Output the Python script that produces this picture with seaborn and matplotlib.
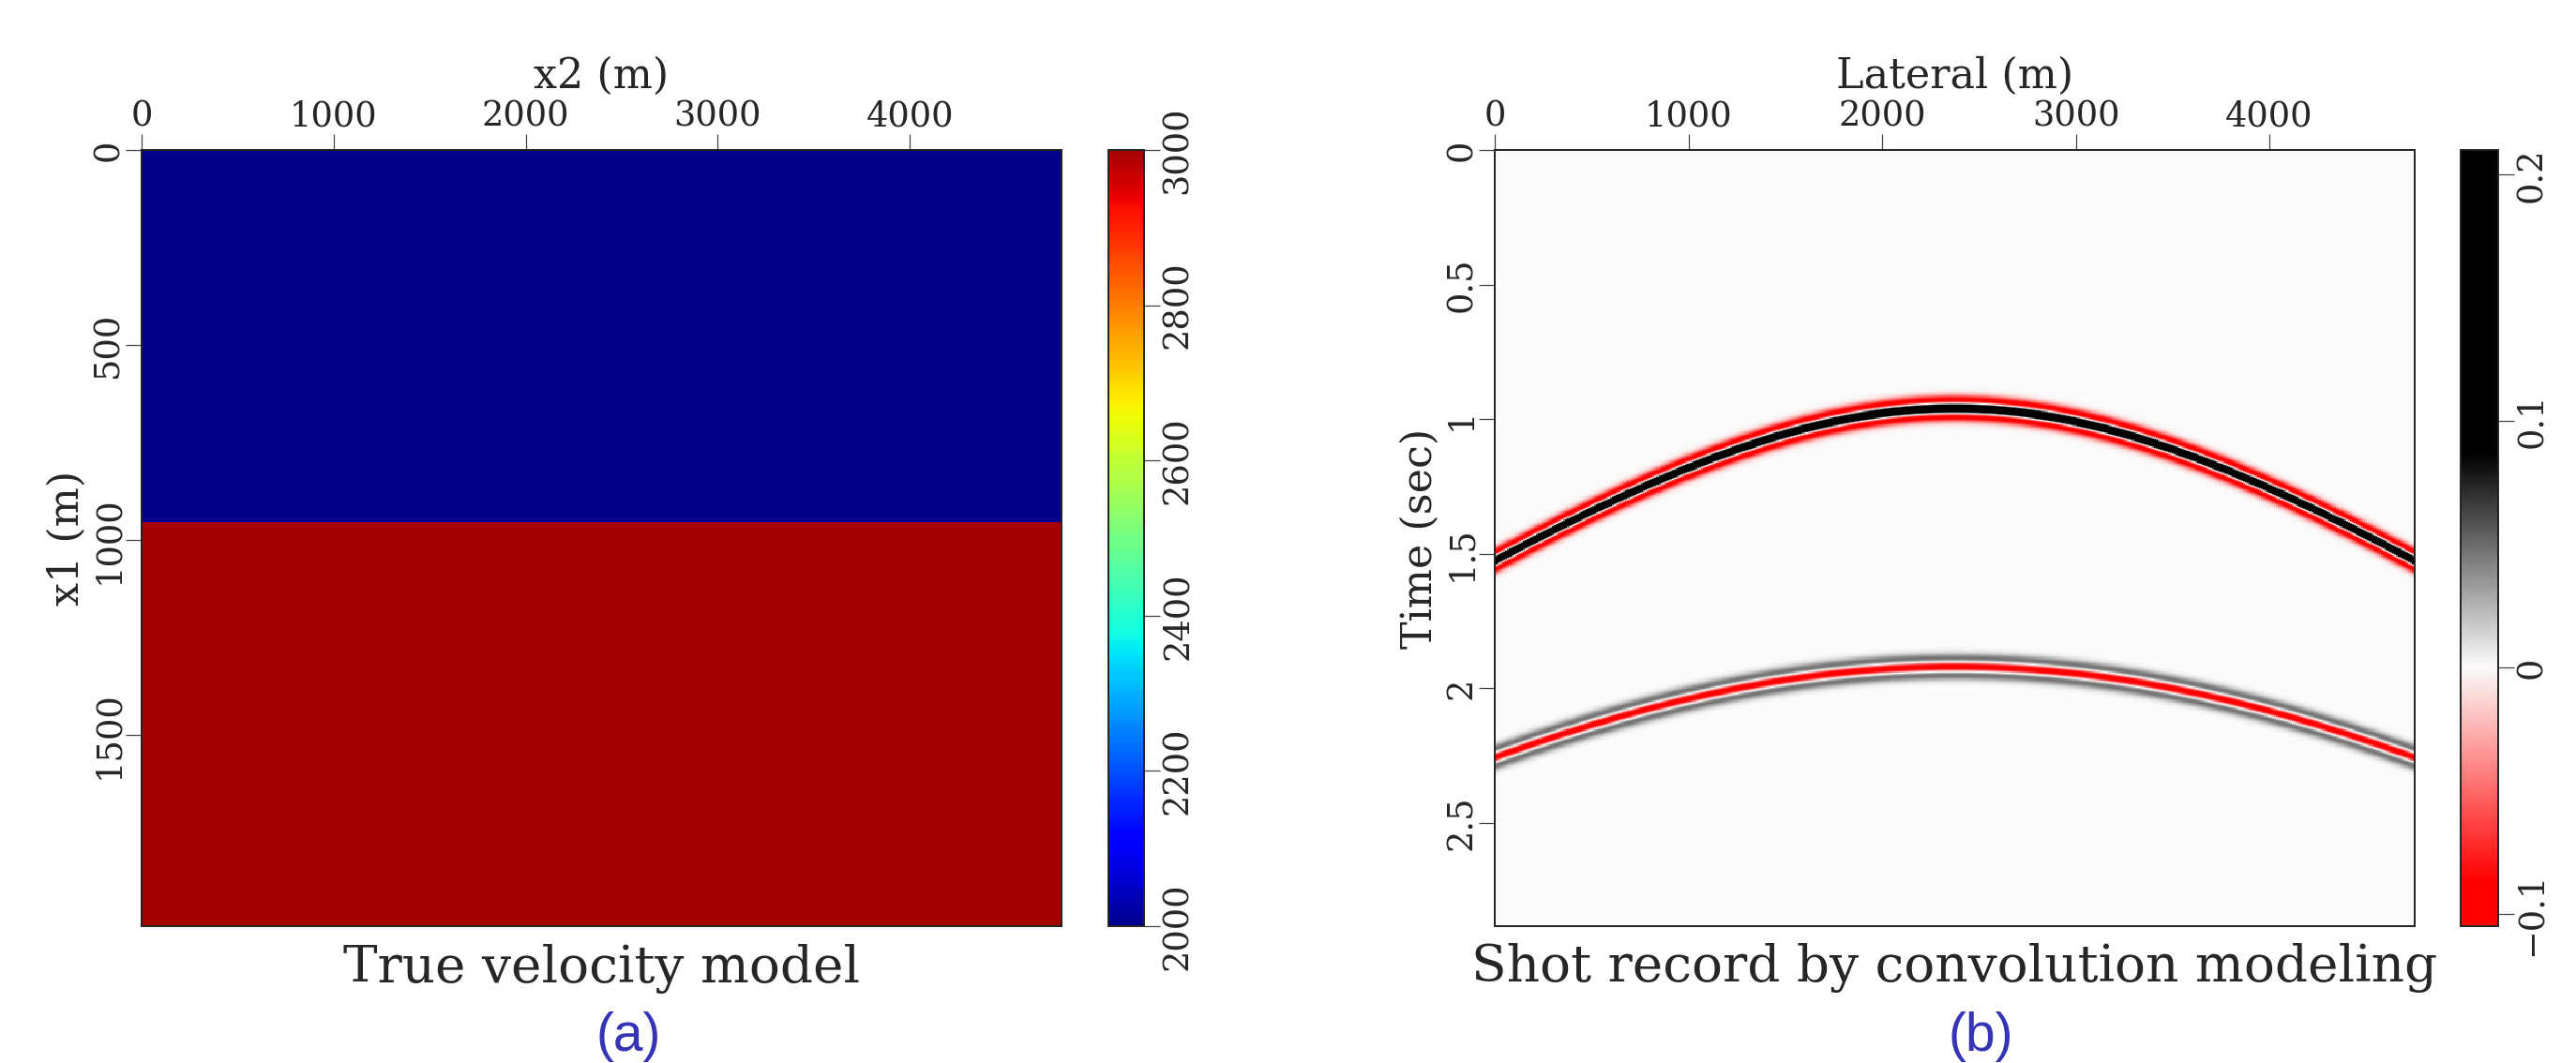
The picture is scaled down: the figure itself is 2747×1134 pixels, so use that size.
import numpy as np
import pandas as pd
import matplotlib
matplotlib.use("Agg")
import matplotlib.pyplot as plt
import seaborn as sns
from matplotlib.colors import LinearSegmentedColormap, ListedColormap

# ---- panel (a): two-layer velocity model ----
model_dz = 10
model_dx = 10
model_nz = 200          # x1 : 0 .. 1990 m
model_nx = 480          # x2 : 0 .. 4790 m
layer_top = [0, 960]    # m
layer_velocity = [2000, 3000]  # m/s

# ---- panel (b): shot record ----
rec_dt = 0.004
rec_nt = 722            # 0 .. 2.884 s
rec_dx = 10
rec_nx = 476            # 0 .. 4750 m
source_x = 2375
medium_velocity = 2000
event_t0 = [0.96, 1.92]        # primary, surface multiple
event_amp = [0.21, -0.105]
peak_freq = 12
amp_clip = 0.087

# ticks / labels
lateral_ticks = [0, 1000, 2000, 3000, 4000]
depth_ticks = [0, 500, 1000, 1500]
time_ticks = [0, 0.5, 1, 1.5, 2, 2.5]
time_labels = ['0', '0.5', '1', '1.5', '2', '2.5']
vel_ticks = [2000, 2200, 2400, 2600, 2800, 3000]
amp_ticks = [-0.1, 0, 0.1, 0.2]
amp_labels = ['\u22120.1', '0', '0.1', '0.2']

# build the model grid
z = np.arange(model_nz) * model_dz
vel = np.full(model_nz, layer_velocity[0], dtype=float)
for top, v in zip(layer_top, layer_velocity):
    vel[z >= top] = v
vel_df = pd.DataFrame(np.repeat(vel[:, None], model_nx, axis=1))

# build the shot record (hyperbolic events with a Ricker wavelet)
t = np.arange(rec_nt) * rec_dt
x = np.arange(rec_nx) * rec_dx
shot = np.zeros((rec_nt, rec_nx))
for t0, a in zip(event_t0, event_amp):
    tt = np.sqrt(t0 ** 2 + ((x - source_x) / medium_velocity) ** 2)
    arg = (np.pi * peak_freq * (t[:, None] - tt[None, :])) ** 2
    shot += a * (1 - 2 * arg) * np.exp(-arg)
shot_df = pd.DataFrame(shot)

# colormaps
jet_cmap = ListedColormap(plt.cm.jet(np.linspace(0.015, 0.965, 256)))
amin, amax = -0.105, 0.21
pos = lambda v: (v - amin) / (amax - amin)
rg_cmap = LinearSegmentedColormap.from_list('redgray', [
    (0.0, '#ff0000'), (pos(-amp_clip), '#ff0000'), (pos(0), '#fbfbfb'),
    (pos(amp_clip), '#000000'), (1.0, '#000000')])

plt.rcParams['font.family'] = 'DejaVu Serif'
plt.rcParams['axes.unicode_minus'] = True
TXT = '#262626'
plt.rcParams['text.color'] = TXT
plt.rcParams['xtick.labelcolor'] = TXT
plt.rcParams['ytick.labelcolor'] = TXT
plt.rcParams['axes.labelcolor'] = TXT

W, H = 2747, 1134
fig = plt.figure(figsize=(W / 100, H / 100), dpi=100)


def box(x0, y0, x1, y1):
    return [x0 / W, 1 - y1 / H, (x1 - x0) / W, (y1 - y0) / H]


ax1 = fig.add_axes(box(151, 160, 1132, 988))
cax1 = fig.add_axes(box(1182, 160, 1220, 988))
ax2 = fig.add_axes(box(1594, 160, 2575, 988))
cax2 = fig.add_axes(box(2624, 160, 2664, 988))

sns.heatmap(vel_df, ax=ax1, cmap=jet_cmap, vmin=2000, vmax=3000, cbar_ax=cax1,
            xticklabels=False, yticklabels=False, rasterized=True)
sns.heatmap(shot_df, ax=ax2, cmap=rg_cmap, vmin=amin, vmax=amax, cbar_ax=cax2,
            xticklabels=False, yticklabels=False, rasterized=True)

TICK_FS = 26.5
LABEL_FS = 32


def style(ax, nx, nz, dx, dz, xt, xl, yt, yl, xlabel, ylabel):
    ax.set_xlim(0.5, nx - 0.5)
    ax.set_ylim(nz - 0.5, 0.5)
    for s in ax.spines.values():
        s.set_visible(True)
        s.set_linewidth(1.4)
        s.set_color('#222222')
    ax.xaxis.tick_top()
    ax.xaxis.set_label_position('top')
    ax.set_xticks([v / dx + 0.5 for v in xt], xl)
    ax.set_yticks([v / dz + 0.5 for v in yt], yl)
    ax.tick_params(length=12, width=0.9, color='#444444', labelsize=TICK_FS, pad=0.5,
                   top=True, bottom=False, left=True, right=False,
                   labeltop=True, labelbottom=False)
    ax.tick_params(axis='y', labelrotation=90)
    for lab in ax.get_yticklabels():
        lab.set_va('center')
    ax.set_xlabel(xlabel, fontsize=LABEL_FS, labelpad=9)
    ax.set_ylabel(ylabel, fontsize=LABEL_FS, labelpad=3)


style(ax1, model_nx, model_nz, model_dx, model_dz, lateral_ticks,
      [str(v) for v in lateral_ticks], depth_ticks, [str(v) for v in depth_ticks],
      'x2 (m)', 'x1 (m)')
style(ax2, rec_nx, rec_nt, rec_dx, rec_dt, lateral_ticks,
      [str(v) for v in lateral_ticks], time_ticks, time_labels,
      'Lateral (m)', 'Time (sec)')

for ax, cax, ticks, labels in [(ax1, cax1, vel_ticks, [str(v) for v in vel_ticks]),
                               (ax2, cax2, amp_ticks, amp_labels)]:
    cb = ax.collections[0].colorbar
    cb.outline.set_linewidth(1.4)
    cb.outline.set_edgecolor('#222222')
    cax.set_yticks(ticks, labels)
    cax.tick_params(axis='y', length=12, width=0.9, color='#444444', labelsize=TICK_FS,
                    pad=1, labelrotation=90)
    for lab in cax.get_yticklabels():
        lab.set_va('center')

fig.text(642 / W, 1 - 1048 / H, 'True velocity model', ha='center', va='baseline',
         fontsize=39.5)
fig.text(2084 / W, 1 - 1047 / H, 'Shot record by convolution modeling', ha='center',
         va='baseline', fontsize=39.5)
fig.text(670 / W, 1 - 1121 / H, '(a)', ha='center', va='baseline', fontsize=41,
         color='#3434b4', family='Liberation Sans')
fig.text(2112 / W, 1 - 1121 / H, '(b)', ha='center', va='baseline', fontsize=41,
         color='#3434b4', family='Liberation Sans')

fig.savefig('out.png', dpi=100, facecolor='white')
